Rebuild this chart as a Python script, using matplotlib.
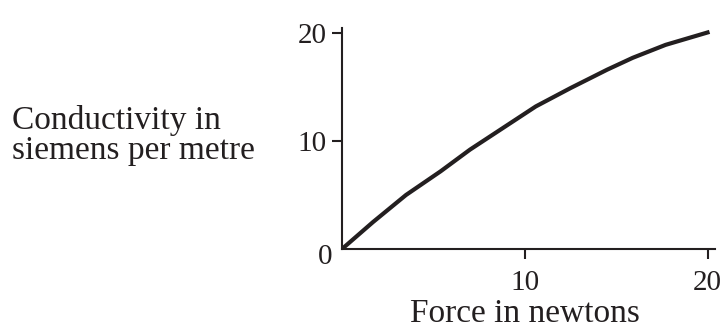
import numpy as np
import matplotlib
matplotlib.use("Agg")
import matplotlib.pyplot as plt

# --- Data ---
force = [0, 1.7, 3.5, 5.4, 7.0, 8.8, 10.6, 12.5, 14.5, 15.9, 17.7, 20.1]
conductivity = [0, 2.5, 5.0, 7.2, 9.2, 11.2, 13.2, 14.9, 16.6, 17.7, 18.9, 20.1]
x_ticks = [10, 20]
y_ticks = [10, 20]

plt.rcParams['font.family'] = ['Liberation Serif', 'DejaVu Serif']
ink = "#231f20"

fig = plt.figure(figsize=(7.28, 3.31), dpi=100)
ax = fig.add_axes([342 / 728, 1 - 249 / 331, (715 - 342) / 728, (249 - 28) / 331])

ax.plot(force, conductivity, color=ink, lw=3.0, solid_capstyle="butt",
        solid_joinstyle="round")

ax.set_xlim(0, 20.4)
ax.set_ylim(0, 20.46)
ax.set_xticks(x_ticks)
ax.set_yticks(y_ticks)

for side in ["top", "right"]:
    ax.spines[side].set_visible(False)
for side in ["left", "bottom"]:
    ax.spines[side].set_linewidth(1.5)
    ax.spines[side].set_color(ink)

ax.tick_params(direction="out", length=7, width=1.5, color=ink,
               labelcolor=ink, labelsize=21)
ax.tick_params(axis="x", pad=8)
ax.tick_params(axis="y", pad=4)

# origin label
ax.annotate("0", xy=(0, 0), xytext=(-12, -6), textcoords="offset points",
            ha="center", va="center", fontsize=21, color=ink)

# axis titles
fig.text(525 / 728, 1 - 322 / 331, "Force in newtons",
         ha="center", va="baseline", fontsize=24, color=ink)
fig.text(12 / 728, 1 - 129 / 331, "Conductivity in",
         ha="left", va="baseline", fontsize=24, color=ink)
fig.text(12 / 728, 1 - 159 / 331, "siemens per metre",
         ha="left", va="baseline", fontsize=24, color=ink)

fig.savefig("out.png", dpi=100)
